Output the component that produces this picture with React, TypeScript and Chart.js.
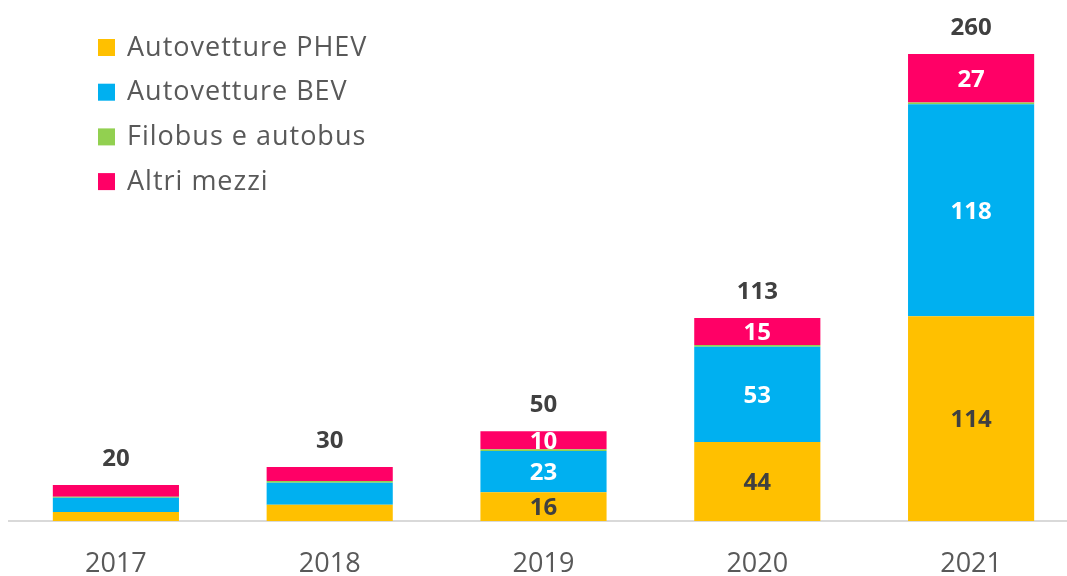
import React, { useEffect, useRef } from "react";
import { Chart, registerables } from "chart.js";

Chart.register(...registerables);

const FONT = "'Open Sans', Lato, sans-serif";

const years = ["2017", "2018", "2019", "2020", "2021"];
const phev = [5, 9, 16, 44, 114];
const bev = [8, 12.3, 23, 53, 118];
const filobus = [0.5, 1, 1, 1, 1];
const altri = [6.5, 7.7, 10, 15, 27];

const seriesNames = ["Autovetture PHEV", "Autovetture BEV", "Filobus e autobus", "Altri mezzi"];
const seriesColors = ["#FFC000", "#00B0F0", "#92D050", "#FF0066"];
const labelColors: (string | null)[] = ["#404040", "#FFFFFF", null, "#FFFFFF"];
const labelledYears = ["2019", "2020", "2021"];

const labelsPlugin = {
  id: "customLabels",
  afterDatasetsDraw(chart: any) {
    const ctx = chart.ctx as any;
    ctx.save();
    ctx.textAlign = "center";
    ctx.textBaseline = "middle";
    ctx.font = `bold 24px ${FONT}`;
    chart.data.datasets.forEach((ds: any, di: number) => {
      const color = labelColors[di];
      if (!color) return;
      const meta = chart.getDatasetMeta(di);
      meta.data.forEach((el: any, i: number) => {
        if (!labelledYears.includes(years[i])) return;
        const v = ds.data[i] as number;
        ctx.fillStyle = color;
        ctx.fillText(String(Math.round(v)), el.x, (el.y + el.base) / 2 + 2);
      });
    });
    const lastMeta = chart.getDatasetMeta(chart.data.datasets.length - 1);
    years.forEach((_, i) => {
      let total = 0;
      chart.data.datasets.forEach((ds: any) => (total += ds.data[i] as number));
      const el: any = lastMeta.data[i];
      ctx.fillStyle = "#404040";
      ctx.fillText(String(Math.round(total)), el.x, el.y - 26);
    });
    // legend
    ctx.textAlign = "left";
    ctx.font = `27px ${FONT}`;
    ctx.letterSpacing = "1px";
    chart.data.datasets.forEach((ds: any, di: number) => {
      const cy = 47 + di * 44.7;
      ctx.fillStyle = ds.backgroundColor as string;
      ctx.fillRect(98, cy - 8, 17, 17);
      ctx.fillStyle = "#595959";
      ctx.fillText(ds.label, 127, cy + 1);
    });
    ctx.restore();
  },
};

export default function App() {
  const ref = useRef<HTMLCanvasElement>(null);
  useEffect(() => {
    if (!ref.current) return;
    const seriesData = [phev, bev, filobus, altri];
    const chart = new Chart(ref.current, {
      type: "bar",
      data: {
        labels: years,
        datasets: seriesData.map((d, i) => ({
          label: seriesNames[i],
          data: d,
          backgroundColor: seriesColors[i],
          borderWidth: 0,
          barPercentage: 0.59,
          categoryPercentage: 1,
        })),
      },
      options: {
        animation: false,
        responsive: true,
        maintainAspectRatio: false,
        layout: { padding: { left: 9, right: 0, top: 0, bottom: 0 } },
        plugins: { legend: { display: false }, tooltip: { enabled: false } },
        scales: {
          x: {
            stacked: true,
            grid: { display: false, drawTicks: false },
            border: { display: true, color: "#D9D9D9", width: 2 },
            ticks: { color: "#595959", font: { family: FONT, size: 27 }, padding: 27 },
            afterFit: (scale: any) => {
              scale.height = 55;
            },
          },
          y: {
            stacked: true,
            display: false,
            min: 0,
            max: 290,
          },
        },
      },
      plugins: [labelsPlugin],
    });
    return () => chart.destroy();
  }, []);
  return (
    <div
      style={{
        position: "fixed",
        left: 0,
        top: 0,
        width: 1067,
        height: 576,
        overflow: "hidden",
        background: "#fff",
      }}
    >
      <div style={{ position: "relative", width: 1078, height: 576 }}>
        <canvas ref={ref} />
      </div>
    </div>
  );
}
